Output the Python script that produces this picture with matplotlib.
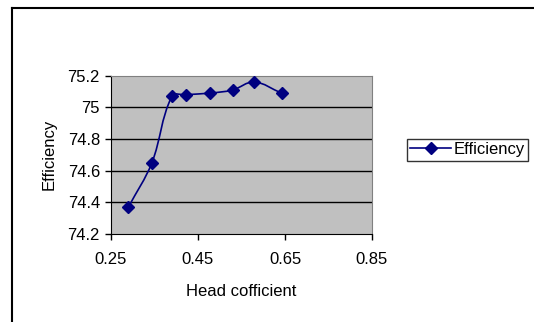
import matplotlib
matplotlib.use("Agg")
import matplotlib.pyplot as plt
from matplotlib.path import Path
from matplotlib.patches import PathPatch
from matplotlib.lines import Line2D
import numpy as np

plt.rcParams['font.family'] = ['Liberation Sans', 'DejaVu Sans']

head_coefficient = [0.290, 0.344, 0.390, 0.422, 0.478, 0.530, 0.579, 0.642]
efficiency = [74.37, 74.65, 75.07, 75.08, 75.09, 75.11, 75.16, 75.09]
x_ticks = [0.25, 0.45, 0.65, 0.85]
y_ticks = [74.2, 74.4, 74.6, 74.8, 75.0, 75.2]
y_tick_labels = ["74.2", "74.4", "74.6", "74.8", "75", "75.2"]

fig = plt.figure(figsize=(5.34, 3.22), dpi=100)
W, H = 534, 322
ax = fig.add_axes([111 / W, 1 - 234 / H, (372 - 111) / W, (234 - 75.7) / H])
ax.set_facecolor('#C0C0C0')
ax.set_xlim(0.25, 0.85)
ax.set_ylim(74.2, 75.2)
ax.set_xticks(x_ticks)
ax.set_xticklabels([f"{v:.2f}" for v in x_ticks])
ax.set_yticks(y_ticks)
ax.set_yticklabels(y_tick_labels)
ax.tick_params(direction='out', length=4, width=1, colors='black', labelsize=12)
ax.tick_params(axis='x', pad=9)
ax.tick_params(axis='y', pad=4)
for yv in y_ticks[1:-1]:
    ax.axhline(yv, color='black', lw=1, zorder=1)
for s in ['top', 'right']:
    ax.spines[s].set_color('#808080')
for s in ['left', 'bottom']:
    ax.spines[s].set_color('black')

# smoothed line (Excel-style) through the data points, computed in pixel-proportional space
sx = 261 / 0.6
sy = 158.3 / 1.0
pts = np.column_stack([np.array(head_coefficient) * sx, np.array(efficiency) * sy])
n = len(pts)
tangents = []
for i in range(n):
    p0 = pts[i - 1] if i > 0 else pts[i]
    p2 = pts[i + 1] if i + 1 < n else pts[i]
    d = p2 - p0
    nd = np.hypot(*d)
    tangents.append(d / nd if nd > 0 else d)
verts = [tuple(pts[0])]
codes = [Path.MOVETO]
for i in range(n - 1):
    p1, p2 = pts[i], pts[i + 1]
    L = np.hypot(*(p2 - p1)) * 0.36
    c1 = p1 + tangents[i] * L
    c2 = p2 - tangents[i + 1] * L
    verts += [tuple(c1), tuple(c2), tuple(p2)]
    codes += [Path.CURVE4] * 3
verts = [(vx / sx, vy / sy) for vx, vy in verts]
patch = PathPatch(Path(verts, codes), facecolor='none', edgecolor='#000080', lw=1.2, zorder=3)
ax.add_patch(patch)
ax.plot(head_coefficient, efficiency, linestyle='none', marker='D', markersize=6.5,
        color='#000080', zorder=4)

ax.set_xlabel('Head cofficient', fontsize=12, labelpad=12)
ax.set_ylabel('Efficiency', fontsize=12, labelpad=8)

# legend
handle = Line2D([], [], color='#000080', marker='D', markersize=6.5, lw=1.2)
leg = fig.legend([handle], ['Efficiency'], loc='upper left',
                 bbox_to_anchor=(407 / W, 1 - 139 / H), fontsize=12,
                 frameon=True, fancybox=False, borderpad=0.2, handlelength=2.45,
                 handletextpad=0.15, borderaxespad=0)
leg.get_frame().set_edgecolor('black')
leg.get_frame().set_linewidth(1)

# chart-area border (left and top visible)
fig.add_artist(Line2D([12 / W, 12 / W], [0, 1 - 7.5 / H], transform=fig.transFigure,
                      color='black', lw=1.5))
fig.add_artist(Line2D([12 / W, 1], [1 - 7.5 / H, 1 - 7.5 / H], transform=fig.transFigure,
                      color='black', lw=1.5))

fig.savefig('out.png', dpi=100)
